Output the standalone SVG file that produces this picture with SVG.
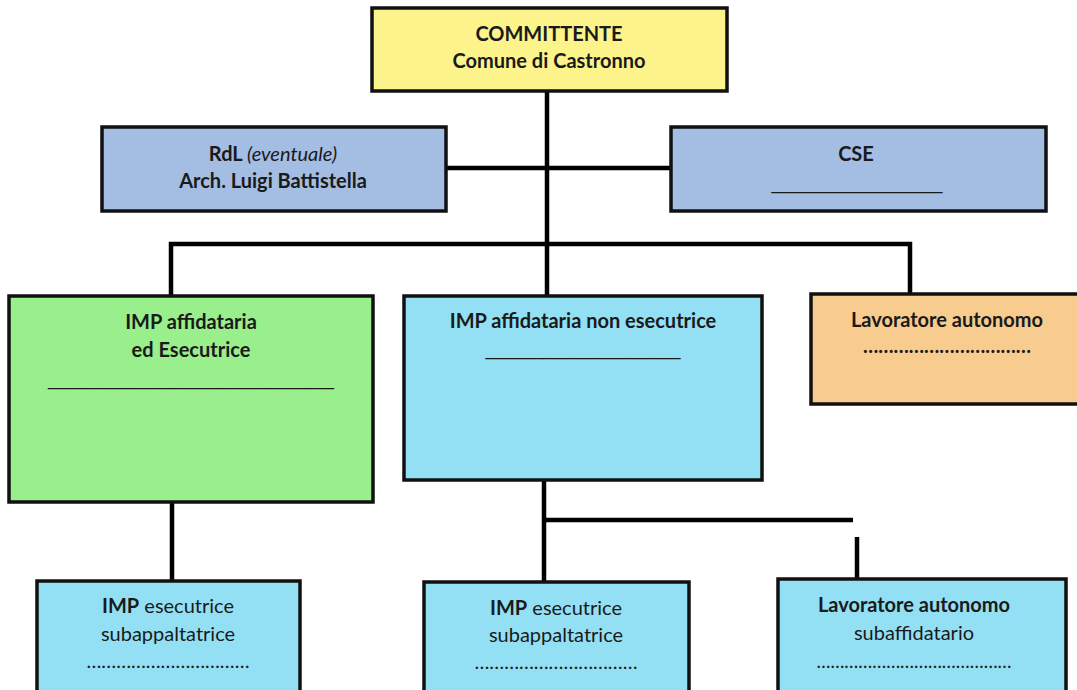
<svg xmlns="http://www.w3.org/2000/svg" width="1077" height="690" viewBox="0 0 1077 690">
<style>
.box{stroke:#111;stroke-width:3.5}
.conn{stroke:#000;stroke-width:4.5;fill:none}
text{font-family:Lato,"Liberation Sans",sans-serif;font-size:20px;fill:#1a1a1a;text-anchor:middle}
.b{font-weight:bold}
.i{font-style:italic;font-weight:normal}
.n{font-weight:normal}
.u{font-family:"Liberation Sans",sans-serif;font-weight:normal;font-size:18px}
</style>
<rect width="1077" height="690" fill="#fff"/>
<g id="connectors">
<line class="conn" x1="547" y1="91" x2="547" y2="296"/>
<line class="conn" x1="446" y1="168" x2="670" y2="168"/>
<polyline class="conn" points="171,296 171,244 910,244 910,293"/>
<line class="conn" x1="172" y1="502" x2="172" y2="580"/>
<line class="conn" x1="544" y1="480" x2="544" y2="582"/>
<line class="conn" x1="544" y1="520" x2="853" y2="520"/>
<line class="conn" x1="857" y1="537" x2="857" y2="579"/>
</g>
<g id="committente">
<rect class="box" x="372" y="8" width="355" height="83" fill="#fcf48b"/>
<text class="b" x="549" y="41">COMMITTENTE</text>
<text class="b" x="549" y="68">Comune di Castronno</text>
</g>
<g id="rdl">
<rect class="box" x="102" y="127" width="344" height="84" fill="#a4bde2"/>
<text x="273" y="161"><tspan class="b">RdL </tspan><tspan class="i">(eventuale)</tspan></text>
<text class="b" x="273" y="188">Arch. Luigi Battistella</text>
</g>
<g id="cse">
<rect class="box" x="671" y="127" width="375" height="84" fill="#a4bde2"/>
<text class="b" x="856" y="161">CSE</text>
<text class="u" x="857" y="189" textLength="171" lengthAdjust="spacingAndGlyphs">_______________</text>
</g>
<g id="imp-affidataria-esecutrice">
<rect class="box" x="9" y="296" width="364" height="206" fill="#98ef8c"/>
<text class="b" x="191" y="329">IMP affidataria</text>
<text class="b" x="191" y="357">ed Esecutrice</text>
<text class="u" x="191" y="385" textLength="286" lengthAdjust="spacingAndGlyphs">_________________________</text>
</g>
<g id="imp-affidataria-non-esecutrice">
<rect class="box" x="404" y="296" width="358" height="184" fill="#93e0f4"/>
<text class="b" x="583" y="328">IMP affidataria non esecutrice</text>
<text class="u" x="583" y="355" textLength="195" lengthAdjust="spacingAndGlyphs">_________________</text>
</g>
<g id="lavoratore-autonomo">
<rect class="box" x="811" y="294" width="268" height="110" fill="#f8cb8e"/>
<text class="b" x="947" y="327">Lavoratore autonomo</text>
<text class="b" x="947" y="353" textLength="168" lengthAdjust="spacingAndGlyphs">……………………………</text>
</g>
<g id="imp-esecutrice-1">
<rect class="box" x="37" y="581" width="263" height="112" fill="#93e0f4"/>
<text x="168" y="613"><tspan class="b">IMP</tspan><tspan class="n"> esecutrice</tspan></text>
<text class="n" x="168" y="641">subappaltatrice</text>
<text class="n" x="168" y="668" textLength="163" lengthAdjust="spacingAndGlyphs">……………………………</text>
</g>
<g id="imp-esecutrice-2">
<rect class="box" x="424" y="582" width="265" height="111" fill="#93e0f4"/>
<text x="556" y="615"><tspan class="b">IMP</tspan><tspan class="n"> esecutrice</tspan></text>
<text class="n" x="556" y="642">subappaltatrice</text>
<text class="n" x="556" y="669" textLength="163" lengthAdjust="spacingAndGlyphs">……………………………</text>
</g>
<g id="lavoratore-subaffidatario">
<rect class="box" x="778" y="579" width="288" height="114" fill="#93e0f4"/>
<text class="b" x="914" y="612">Lavoratore autonomo</text>
<text class="n" x="914" y="640">subaffidatario</text>
<text class="n" x="914" y="668" textLength="195" lengthAdjust="spacingAndGlyphs">……………………………………</text>
</g>
</svg>
